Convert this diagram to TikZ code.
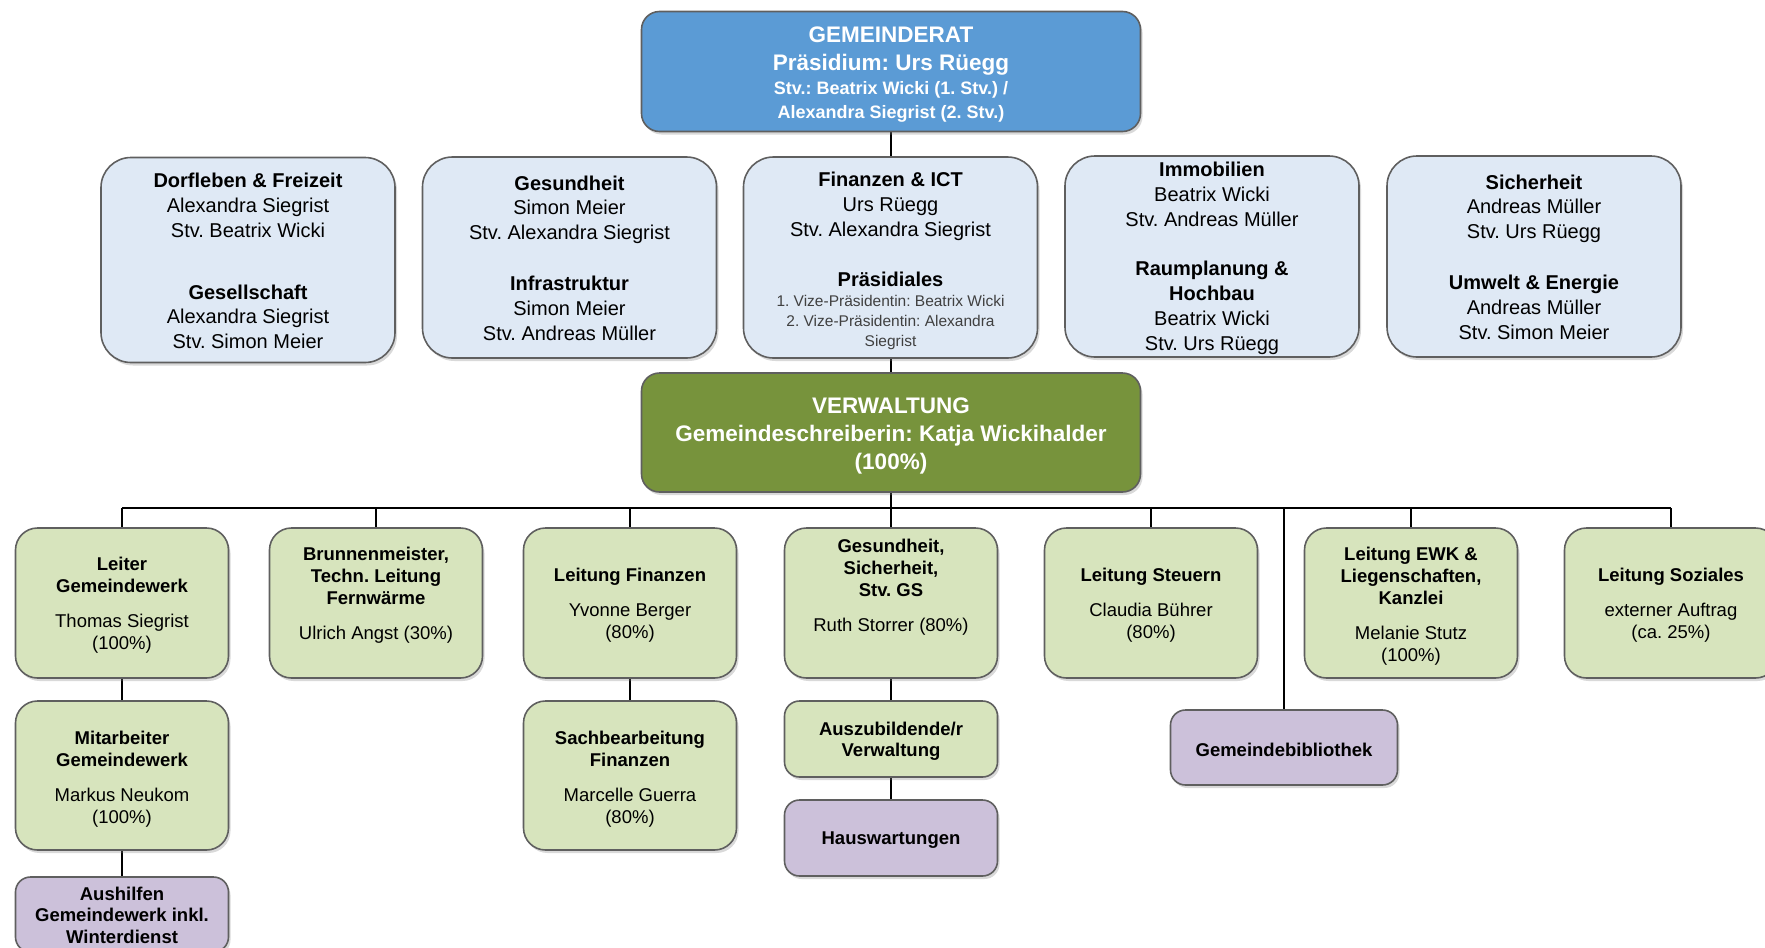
\documentclass[tikz,border=0pt]{standalone}
\usepackage{fontspec}
\setmainfont{Liberation Sans}
\frenchspacing
\usetikzlibrary{shadows,backgrounds}
\definecolor{gemblue}{HTML}{5B9BD5}
\definecolor{rowblue}{HTML}{DFE9F5}
\definecolor{vergreen}{HTML}{77933C}
\definecolor{lgreen}{HTML}{D7E4BD}
\definecolor{lpurple}{HTML}{CCC1DA}
\definecolor{bordergray}{HTML}{5F5F5F}
\newcommand\boxtxt[4]{\node[#3] at ([yshift=-#2pt]#1.center) {#4};}
\begin{document}
\begin{tikzpicture}[x=1pt,y=-1pt,
  base/.style={draw=bordergray, line width=1.6pt, inner sep=0pt,
     drop shadow={shadow xshift=2pt, shadow yshift=-3pt, opacity=0.3}},
  topbox/.style={base, fill=gemblue, rounded corners=18pt, minimum width=499pt, minimum height=120pt},
  verbox/.style={base, fill=vergreen, rounded corners=18pt, minimum width=499pt, minimum height=119pt},
  rowbox/.style={base, fill=rowblue, rounded corners=30pt, minimum width=294pt, minimum height=201pt},
  gbox/.style={base, fill=lgreen, rounded corners=22pt, minimum width=213pt, minimum height=150pt},
  sbox/.style={base, fill=lgreen, rounded corners=15pt, minimum width=213pt, minimum height=76pt},
  pbox/.style={base, fill=lpurple, rounded corners=15pt, minimum width=213pt, minimum height=76pt},
  ttop/.style={align=center, inner sep=0pt, text=white, font=\bfseries\fontsize{22.5}{24}\selectfont},
  tver/.style={align=center, inner sep=0pt, text=white, font=\bfseries\fontsize{22.5}{28}\selectfont},
  trow/.style={align=center, inner sep=0pt, font=\fontsize{20}{24.8}\selectfont},
  tg/.style={align=center, inner sep=0pt, font=\fontsize{18.5}{22}\selectfont},
  ts/.style={align=center, inner sep=0pt, font=\bfseries\fontsize{18.5}{21.4}\selectfont},
  conn/.style={draw=black, line width=1.8pt}
]
\useasboundingbox (0,0) rectangle (1765,948);

% top
\node[topbox] (gem) at (891,71.5) {};
\boxtxt{gem}{3}{ttop}{GEMEINDERAT\\[4pt]Präsidium: Urs Rüegg\\{\fontsize{18}{23.6}\selectfont Stv.: Beatrix Wicki (1. Stv.) /}\\{\fontsize{18}{23.6}\selectfont Alexandra Siegrist (2. Stv.)}}

% row 2
\node[rowbox, minimum height=205pt] (b1) at (248,260) {};
\boxtxt{b1}{1.1}{trow}{\textbf{Dorfleben \& Freizeit}\\Alexandra Siegrist\\Stv. Beatrix Wicki\\[37pt]\textbf{Gesellschaft}\\Alexandra Siegrist\\Stv. Simon Meier}
\node[rowbox] (b2) at (569.5,257.5) {};
\boxtxt{b2}{0.5}{trow}{\textbf{Gesundheit}\\Simon Meier\\Stv. Alexandra Siegrist\\[26pt]\textbf{Infrastruktur}\\Simon Meier\\Stv. Andreas Müller}
\node[rowbox] (b3) at (890.5,257.5) {};
\boxtxt{b3}{3.4}{trow}{\textbf{Finanzen \& ICT}\\Urs Rüegg\\Stv. Alexandra Siegrist\\[25pt]\textbf{Präsidiales}\\[-4.5pt]{\fontsize{15.5}{19.7}\selectfont\color{black!75}1. Vize-Präsidentin: Beatrix Wicki}\\[-5pt]{\fontsize{15.5}{19.7}\selectfont\color{black!75}2. Vize-Präsidentin: Alexandra}\\[-5pt]{\fontsize{15.5}{19.7}\selectfont\color{black!75}Siegrist}}
\node[rowbox] (b4) at (1212,256.5) {};
\boxtxt{b4}{1.7}{trow}{\textbf{Immobilien}\\Beatrix Wicki\\Stv. Andreas Müller\\[25pt]\textbf{Raumplanung \&}\\\textbf{Hochbau}\\Beatrix Wicki\\Stv. Urs Rüegg}
\node[rowbox] (b5) at (1534,256.5) {};
\boxtxt{b5}{0.5}{trow}{\textbf{Sicherheit}\\Andreas Müller\\Stv. Urs Rüegg\\[26pt]\textbf{Umwelt \& Energie}\\Andreas Müller\\Stv. Simon Meier}

% Verwaltung
\node[verbox] (ver) at (891,432.5) {};
\boxtxt{ver}{3.4}{tver}{VERWALTUNG\\Gemeindeschreiberin: Katja Wickihalder\\(100\%)}

% row 3
\node[gbox] (c1) at (122,603) {};
\boxtxt{c1}{2.3}{tg}{\textbf{Leiter}\\\textbf{Gemeindewerk}\\[13pt]Thomas Siegrist\\(100\%)}
\node[gbox] (c2) at (376,603) {};
\boxtxt{c2}{-8}{tg}{\textbf{Brunnenmeister,}\\\textbf{Techn. Leitung}\\\textbf{Fernwärme}\\[13pt]Ulrich Angst (30\%)}
\node[gbox] (c3) at (630,603) {};
\boxtxt{c3}{2.3}{tg}{\textbf{Leitung Finanzen}\\[13pt]Yvonne Berger\\(80\%)}
\node[gbox] (c4) at (891,603) {};
\boxtxt{c4}{-15.5}{tg}{\textbf{Gesundheit,}\\\textbf{Sicherheit,}\\\textbf{Stv. GS}\\[13pt]Ruth Storrer (80\%)}
\node[gbox] (c5) at (1151,603) {};
\boxtxt{c5}{2.3}{tg}{\textbf{Leitung Steuern}\\[13pt]Claudia Bührer\\(80\%)}
\node[gbox] (c6) at (1411,603) {};
\boxtxt{c6}{2.8}{tg}{\textbf{Leitung EWK \&}\\\textbf{Liegenschaften,}\\\textbf{Kanzlei}\\[13pt]Melanie Stutz\\(100\%)}
\node[gbox] (c7) at (1671,603) {};
\boxtxt{c7}{2.3}{tg}{\textbf{Leitung Soziales}\\[13pt]externer Auftrag\\(ca. 25\%)}

% row 4
\node[gbox, minimum height=149pt] (c1b) at (122,775.5) {};
\boxtxt{c1b}{3.4}{tg}{\textbf{Mitarbeiter}\\\textbf{Gemeindewerk}\\[13pt]Markus Neukom\\(100\%)}
\node[gbox, minimum height=149pt] (c3b) at (630,775.5) {};
\boxtxt{c3b}{3.4}{tg}{\textbf{Sachbearbeitung}\\\textbf{Finanzen}\\[13pt]Marcelle Guerra\\(80\%)}
\node[sbox] (c4b) at (891,739) {};
\boxtxt{c4b}{2.3}{ts}{Auszubildende/r\\Verwaltung}
\node[pbox] (haus) at (891,838) {};
\boxtxt{haus}{2.3}{ts}{Hauswartungen}
\node[pbox, minimum width=227pt, minimum height=75pt] (lib) at (1284,747.5) {};
\boxtxt{lib}{2.3}{ts}{Gemeindebibliothek}
\node[pbox, minimum height=75pt] (aus) at (122,914.5) {};
\boxtxt{aus}{0.5}{ts}{Aushilfen\\Gemeindewerk inkl.\\Winterdienst}

\coordinate (busL) at (122,508);
\coordinate (busR) at (1671,508);

\begin{pgfonlayer}{background}
\draw[conn] (gem.south) -- (ver.north);
\draw[conn] (ver.south) -- (ver.south |- busL);
\draw[conn] (busL) -- (busR);
\foreach \n in {c1,c2,c3,c4,c5,c6,c7} \draw[conn] (\n.north) -- (\n.north |- busL);
\draw[conn] (lib.north) -- (lib.north |- busL);
\draw[conn] (c1.south) -- (c1b.north);
\draw[conn] (c1b.south) -- (aus.north);
\draw[conn] (c3.south) -- (c3b.north);
\draw[conn] (c4.south) -- (c4b.north);
\draw[conn] (c4b.south) -- (haus.north);
\end{pgfonlayer}
\end{tikzpicture}
\end{document}
